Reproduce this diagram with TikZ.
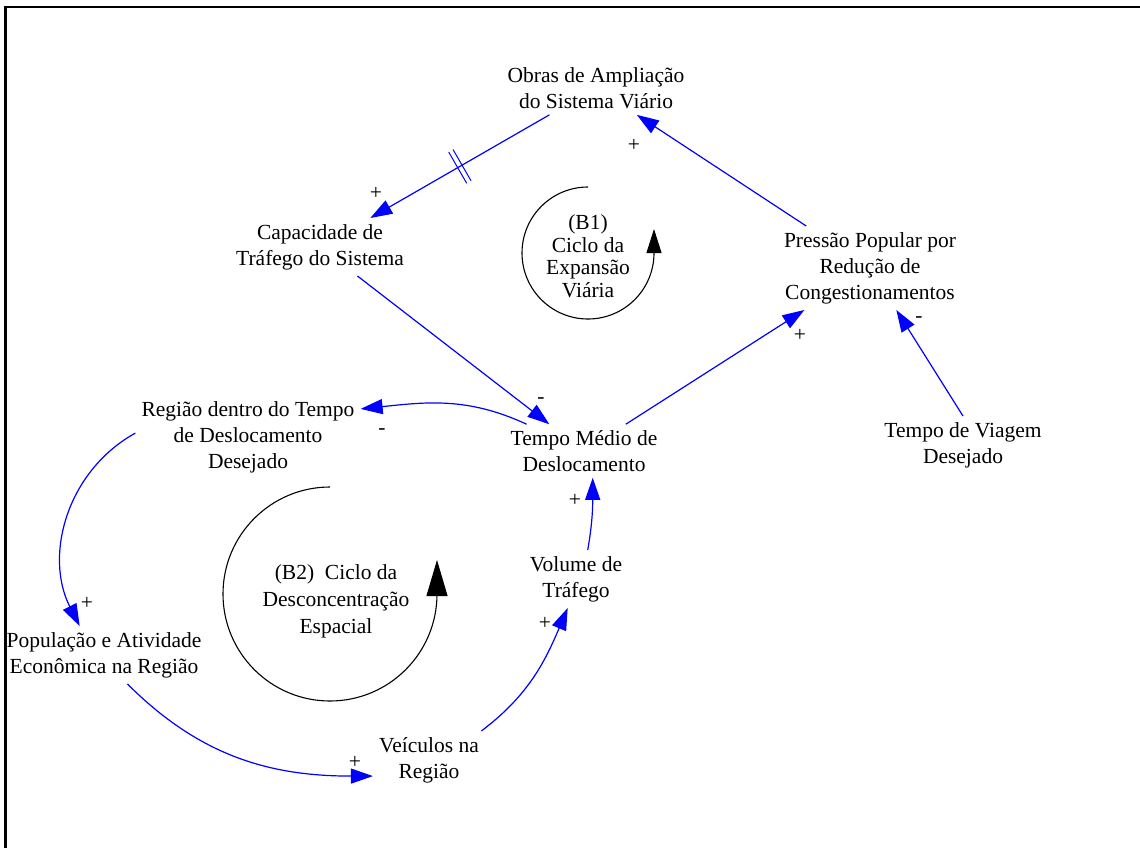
\documentclass[tikz,border=0pt]{standalone}
\usepackage{fontspec}
\setmainfont{Liberation Serif}
\usetikzlibrary{arrows.meta,decorations.markings,positioning}

\begin{document}
\begin{tikzpicture}[x=1pt,y=1pt,
  var/.style={align=center, inner sep=6pt, font=\fontsize{21.5}{26}\selectfont},
  pol/.style={inner sep=0pt, font=\fontsize{21.5}{26}\selectfont},
  lnk/.style={draw=blue, line width=1.2pt, -{Triangle[length=22pt, width=15pt]}},
  loopline/.style={draw=black, line width=1.1pt},
  dly/.style={postaction={decorate}, decoration={markings,
    mark=at position 0.5 with {\draw[blue, line width=1pt, -] (-2.5,-18) -- (-2.5,18) (2.5,-18) -- (2.5,18);}}}
  ]
  \useasboundingbox (0,0) rectangle (1140,-848);
  % frame (only top and left edges are visible)
  \draw[line width=2.5pt] (5.5,-848) -- (5.5,-7) -- (1140,-7);

  % variables
  \node[var] (obras) at (596,-88) {Obras de Ampliação\\do Sistema Viário};
  \node[var] (cap) at (320,-247) {Capacidade de\\Tráfego do Sistema};
  \node[var] (press) at (870,-268) {Pressão Popular por\\Redução de\\Congestionamentos};
  \node[var] (regiao) at (248,-437) {Região dentro do Tempo\\de Deslocamento\\Desejado};
  \node[var] (tmd) at (584,-451) {Tempo Médio de\\Deslocamento};
  \node[var] (tvd) at (963,-445) {Tempo de Viagem\\Desejado};
  \node[var] (vol) at (576,-579) {Volume de\\Tráfego};
  \node[var] (pop) at (104,-655) {População e Atividade\\Econômica na Região};
  \node[var] (veic) at (429,-760) {Veículos na\\Região};

  % loop labels
  \node[var, font=\fontsize{21.5}{22.5}\selectfont] (b1) at (588,-256) {(B1)\\Ciclo da\\Expansão\\Viária};
  \node[var, font=\fontsize{21.5}{27}\selectfont] (b2) at (336,-601) {(B2)\ \ Ciclo da\\Desconcentração\\Espacial};

  % loop arrows
  \def\ra{66}   % radius of B1
  \def\rb{107}  % radius of B2
  \draw[loopline, -{Triangle[length=24pt, width=15pt]}] (588,-253+\ra) arc[start angle=90, end angle=360, radius=\ra] -- ++(0,24);
  \draw[loopline, -{Triangle[length=36pt, width=21pt]}] (330,-594+\rb) arc[start angle=90, end angle=360, radius=\rb] -- ++(0,34);

  % links
  \draw[lnk, dly] (obras) -- (cap);
  \draw[lnk] (press) -- (obras);
  \draw[lnk] (cap) -- (tmd);
  \draw[lnk] (tmd) -- (press);
  \draw[lnk] (tvd.north) -- (press);
  \draw[lnk] (tmd.155) to[out=155, in=6] (regiao.14);
  \draw[lnk] (regiao.178) to[out=209, in=117] (pop.130);
  \draw[lnk] (pop.309) to[out=-45, in=180] (veic.196);
  \draw[lnk] (veic.29) to[out=37, in=247] (vol.254);
  \draw[lnk] (vol.68) to[out=80, in=270] (tmd.288);

  % polarities
  \node[pol] (p1) at (376,-193) {+};
  \node[pol] (p2) at (634,-145) {+};
  \node[pol] (p3) at (541,-401) {-};
  \node[pol] (p4) at (800,-335) {+};
  \node[pol] (p5) at (919,-320) {-};
  \node[pol] (p6) at (382,-432) {-};
  \node[pol] (p7) at (87,-603) {+};
  \node[pol] (p8) at (355,-762) {+};
  \node[pol] (p9) at (545,-623) {+};
  \node[pol] (p10) at (575,-500) {+};
\end{tikzpicture}
\end{document}
